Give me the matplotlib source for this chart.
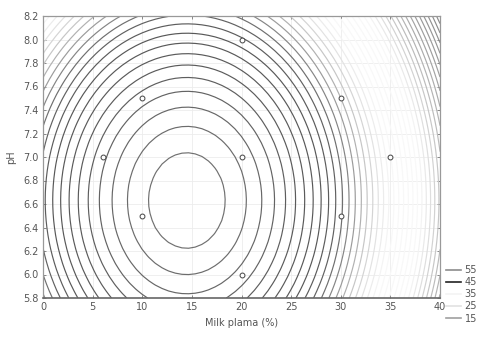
import numpy as np
import matplotlib.pyplot as plt
from matplotlib.lines import Line2D

# design points (milk plasma %, pH)
milk_pct = [6, 10, 10, 20, 20, 20, 30, 30, 35]
ph_pts = [7.0, 7.5, 6.5, 8.0, 7.0, 6.0, 7.5, 6.5, 7.0]

# fitted quadratic response surface
b0 = 56.95
x_opt = 14.5
ph_opt = 6.63
b_xx = 0.0635
b_pp = 5.73

# contour levels and their grey shade (0 = black, 255 = white)
levels = np.arange(56, -2, -4 / 3)[::-1]
shade_at = [0, 10, 15, 19, 22, 30, 33, 36, 39, 42, 45, 50, 56]
shade_val = [130, 160, 190, 225, 248, 248, 230, 198, 150, 100, 88, 92, 112]

legend_vals = [55, 45, 35, 25, 15]
legend_cols = ['#8c8c8c', '#222222', '#f4f4f4', '#e2e2e2', '#a0a0a0']

x = np.linspace(0, 40, 61)
y = np.linspace(5.8, 8.2, 41)
X, Y = np.meshgrid(x, y)
Z = b0 - b_xx * (X - x_opt) ** 2 - b_pp * (Y - ph_opt) ** 2

g = np.interp(levels, shade_at, shade_val) / 255
line_cols = [(v, v, v) for v in g]

fig = plt.figure(figsize=(4.79, 3.39), dpi=100)
ax = fig.add_axes([43 / 479, 1 - 298 / 339, 397 / 479, 282 / 339])

ax.grid(True, color='#ececec', lw=0.6)
ax.set_axisbelow(True)
ax.contour(X, Y, Z, levels=levels, colors=line_cols, linewidths=0.85)
ax.plot(milk_pct, ph_pts, 'o', ms=3.5, mfc='white', mec='#444444', mew=0.7, zorder=5)

ax.set_xlim(0, 40)
ax.set_ylim(5.8, 8.2)
ax.set_xticks(np.arange(0, 41, 5))
ax.set_yticks(np.round(np.arange(5.8, 8.21, 0.2), 1))
ax.set_yticklabels([f'{v:.1f}' for v in np.arange(5.8, 8.21, 0.2)])
ax.tick_params(direction='in', length=2.5, width=0.6, color='#777777',
               labelsize=7, labelcolor='#555555', top=True, right=True, pad=3)
for s in ax.spines.values():
    s.set_color('#999999')
    s.set_linewidth(0.9)
ax.spines['bottom'].set_color('#666666')
ax.spines['bottom'].set_linewidth(1.2)

ax.set_xlabel('Milk plama (%)', fontsize=7, color='#555555', labelpad=4)
ax.set_ylabel('pH', fontsize=7, color='#555555', labelpad=5)

handles = [Line2D([], [], color=c, lw=1.2) for c in legend_cols]
fig.legend(handles, [str(v) for v in legend_vals], loc='upper left',
           bbox_to_anchor=(446 / 479, 1 - 265 / 339), frameon=False,
           fontsize=7, labelcolor='#555555', handlelength=1.5, handletextpad=0.4,
           labelspacing=0.22, borderpad=0, borderaxespad=0)

fig.savefig('out.png', dpi=100)
